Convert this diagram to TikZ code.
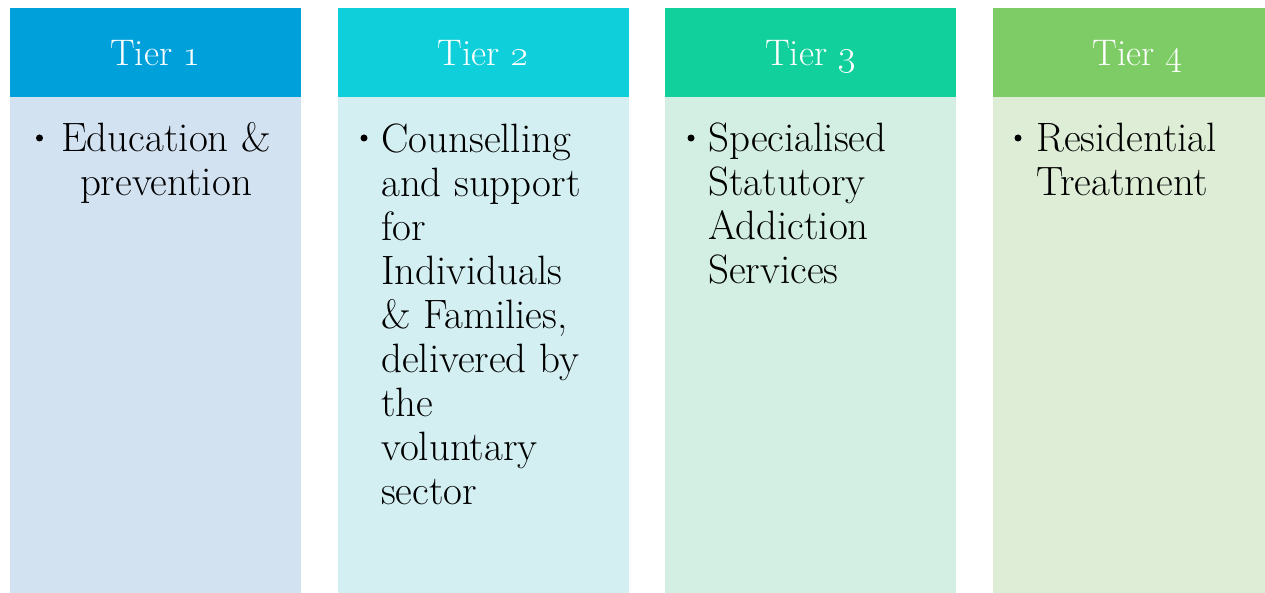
\documentclass[tikz,border=0pt]{standalone}
\usepackage{fix-cm}
\definecolor{headA}{HTML}{00A0DA}
\definecolor{headB}{HTML}{0FCFDA}
\definecolor{headC}{HTML}{12D09B}
\definecolor{headD}{HTML}{7ECC66}
\definecolor{bodyA}{HTML}{D3E2F1}
\definecolor{bodyB}{HTML}{D3EFF2}
\definecolor{bodyC}{HTML}{D3EEE2}
\definecolor{bodyD}{HTML}{DDEDD6}
\begin{document}
\begin{tikzpicture}[x=1pt, y=-1pt,
  head/.style={rectangle, minimum width=291, minimum height=89, inner sep=0, text=white, font={\fontsize{37}{40}\selectfont}, text height=26, text depth=0},
  body/.style={rectangle, minimum width=291, minimum height=496, inner sep=0},
  txt/.style={inner sep=0, align=left, anchor=base west, font={\fontsize{41}{44}\selectfont}},
  bul/.style={circle, fill, inner sep=0, minimum size=7}]
\useasboundingbox (0,0) rectangle (1265,593);
\clip (0,0) rectangle (1265,593);
\node[body, fill=bodyA] (body1) at (155.5,345){};
\node[body, fill=bodyB] (body2) at (483,345){};
\node[body, fill=bodyC] (body3) at (810.5,345){};
\node[body, fill=bodyD] (body4) at (1138,345){};
\node[head, fill=headA] (head1) at (155.5,52.5){Tier \oldstylenums{1}};
\node[head, fill=headB] (head2) at (483,52.5){Tier \oldstylenums{2}};
\node[head, fill=headC] (head3) at (810.5,52.5){Tier \oldstylenums{3}};
\node[head, fill=headD] (head4) at (1138,52.5){Tier \oldstylenums{4}};
\node[bul] (bul1) at (39.5,138){};
\node[bul] (bul2) at (364,138){};
\node[bul] (bul3) at (691,138){};
\node[bul] (bul4) at (1018,138){};
\node[txt, align=center, anchor=base] (text1) at (166,196){Education \&\\prevention};
\node[txt] (text2) at (381,504){Counselling\\and support\\for\\Individuals\\\& Families,\\delivered by\\the\\voluntary\\sector};
\node[txt] (text3) at (708,284){Specialised\\Statutory\\Addiction\\Services};
\node[txt] (text4) at (1036,196){Residential\\Treatment};
\end{tikzpicture}
\end{document}
